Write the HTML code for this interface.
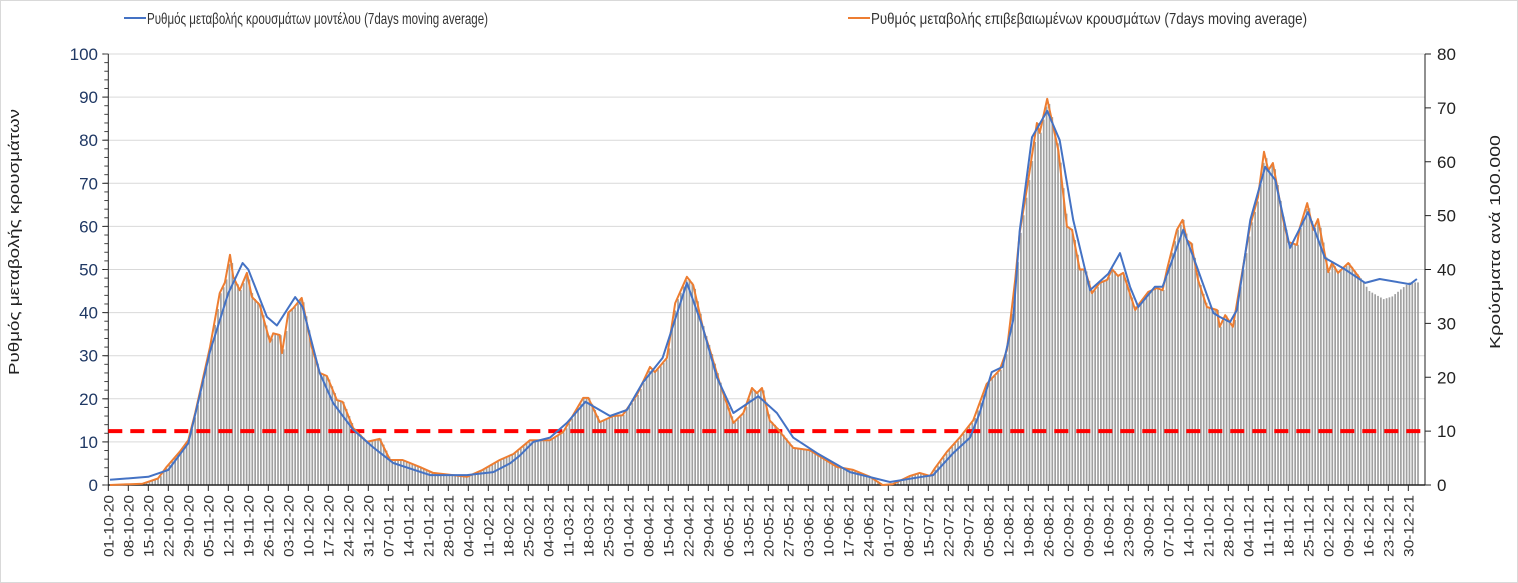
<!DOCTYPE html>
<html><head><meta charset="utf-8"><style>
html,body{margin:0;padding:0;background:#fff;}
svg{display:block;font-family:"Liberation Sans",sans-serif;}
</style></head><body>
<svg id="chart" width="1518" height="583" viewBox="0 0 1518 583" xmlns="http://www.w3.org/2000/svg">
<rect x="0.5" y="0.5" width="1517" height="582" fill="#fff" stroke="#d9d9d9"/>
<g id="grid"></g>
<g id="bars"></g>
<g id="axes"></g>
<g id="lines"></g>
<g>
  <g>
    <line x1="124" y1="18" x2="146" y2="18" stroke="#4472c4" stroke-width="2"/>
    <text x="147" y="24" font-size="16" fill="#333" textLength="341" lengthAdjust="spacingAndGlyphs">Ρυθμός μεταβολής κρουσμάτων μοντέλου (7days moving average)</text>
  </g>
  <g>
    <line x1="848" y1="18" x2="870" y2="18" stroke="#ed7d31" stroke-width="2"/>
    <text x="871" y="24" font-size="16" fill="#333" textLength="436" lengthAdjust="spacingAndGlyphs">Ρυθμός μεταβολής επιβεβαιωμένων κρουσμάτων (7days moving average)</text>
  </g>
</g>
<text transform="translate(19,242) rotate(-90)" text-anchor="middle" font-size="15" fill="#222" textLength="266" lengthAdjust="spacingAndGlyphs">Ρυθμός μεταβολής κρουσμάτων</text>
<text transform="translate(1500,242) rotate(-90)" text-anchor="middle" font-size="15" fill="#222" textLength="214" lengthAdjust="spacingAndGlyphs">Κρούσματα ανά 100.000</text>
</svg>
<script>
// blue: model rate (day offset from 01-10-20, value on left axis)
const blueDays=[0.6,14,21,28,31,35.6,42,47,49,55.5,59,65.4,68,74,78.7,85.7,92.6,99.7,112.6,125.5,134.7,140.6,144,148.8,154.6,160.5,167,175.6,181.5,187,194,202.5,208,213,218.8,227.5,234,239.7,248,259.6,273.6,284,288.7,295.7,301.6,305,309.2,313,316.7,319,323.3,328.6,333,337.7,343.6,350,354.1,357.6,360.5,366.3,369,376.2,381,386.8,389,392.6,395,399.7,404.9,408.4,413.6,419.9,425.8,432.2,439.9,445,455.6,458];
const blueVals=[1.2,1.9,3.5,9.7,18,31,44.5,51.5,50,39,37,43.6,41.3,26,19,12.8,8.8,5.1,2.3,2.3,3,5,6.8,10,11,14.4,19.3,16,17.4,23.7,29.5,46.9,36.7,25,16.7,20.6,16.7,11,7.4,3,0.7,1.8,2.3,7.4,11,16.7,26.2,27.4,38.3,59,80.7,86.8,80,61.5,45.2,49,53.8,46,41.3,46,46,59.2,50.6,39.9,39,37.8,40.6,61.5,73.8,70.8,55,63.3,52.7,50.3,46.9,47.8,46.6,47.8];
// orange: confirmed rate
const orangeDays=[0.6,12,17.4,20.4,25,28,30.4,35.6,39,40.8,42.6,43.7,46,48.5,50.3,53,56.6,57.7,60,60.8,63,64.7,67.7,71.2,74,76.5,80,82,85.7,90.5,95,98.6,103,109,113.7,125.5,131,137,141.8,147.6,154.6,159.2,166.2,168,172,176.7,180,185,189.6,191.3,195.5,198.4,202.5,204.7,208.3,210.6,214,218.8,222.3,225.3,227,228.8,231.5,234,239.7,245.5,255,260.7,266.6,271,274.6,280.6,284,287.6,289.3,293.5,298,302.7,307.4,312,314.5,317.4,319,322,325,326,328.6,332.5,335.5,337.3,340,341.8,344.3,347,349.6,351.3,353.4,355.2,359.4,361,364,367,369,370.5,374,376,377.5,379.1,381.4,384.5,388,389,390.9,393.6,399.6,402.4,404.5,406,407.6,411.2,413,416,417,419.6,421.7,423.4,427,428.3,430.4,434,438];
const orangeVals=[0,0.3,1.5,4.2,7.7,10.4,16.7,32,44.5,47,53.4,48.3,45.2,49.2,43.6,41.8,33.2,35.2,34.8,30.6,40,41,43.4,32,26,25.3,19.7,19.3,13.2,10,10.7,5.8,5.8,4.2,2.8,1.9,3.5,5.8,7.2,10.4,10.4,12.3,20.2,20.2,14.6,16,16.2,20.9,27.4,26.2,29.5,42.2,48.3,46.4,36,31.3,23.7,14.4,16.7,22.5,21.3,22.5,15,13.2,8.6,8.1,4.2,3.5,1.9,0,0.2,2.1,2.8,2.1,3.9,7.7,11,15,23.4,26.7,31.3,47.6,58.5,70.8,84,81.7,89.6,77.7,60,59.2,50,50,44.5,46.9,47.6,50.1,48.5,49.2,40.6,42.2,44.8,45.7,45.2,49.9,59.2,61.5,56.8,56,47.6,41.3,40.6,36.7,39.4,36.7,60,66.8,77.3,73,74.7,61.5,56.4,55.7,59.6,65.4,59.2,61.7,49.4,51.5,49.2,51.5,48];
// bars: daily cases per 100k (right axis), read at these day offsets
const barDays=[0.6,12,17.4,20.4,25,28,30.4,35.6,39,40.8,42.6,43.7,46,48.5,50.3,53,56.6,57.7,60,60.8,63,64.7,67.7,71.2,74,76.5,80,82,85.7,90.5,95,98.6,103,109,113.7,125.5,131,137,141.8,147.6,154.6,159.2,166.2,168,172,176.7,180,185,189.6,191.3,195.5,198.4,202.5,204.7,208.3,210.6,214,218.8,222.3,225.3,227,228.8,231.5,234,239.7,245.5,255,260.7,266.6,271,274.6,280.6,284,287.6,289.3,293.5,298,302.7,307.4,312,314.5,317.4,319,322,325,326,328.6,332.5,335.5,337.3,340,341.8,344.3,347,349.6,351.3,353.4,355.2,359.4,361,364,367,369,370.5,374,376,377.5,379.1,381.4,384.5,388,389,390.9,393.6,399.6,402.4,404.5,406,407.6,411.2,413,416,417,419.6,421.7,423.4,427,428.3,430.4,434,438,441,446,449,455,458];
const barVals=[0,0.24,1.2,3.4,6.2,8.3,13.4,25.6,35.6,37.6,42.7,38.6,36.2,39.4,34.9,33.4,26.6,28.2,27.8,24.5,32,32.8,34.7,25.6,20.8,20.2,15.8,15.4,10.6,8,8.6,4.6,4.6,3.4,2.2,1.5,2.8,4.6,5.8,8.3,8.3,9.8,16.2,16.2,11.7,12.8,13,16.7,21.9,21,23.6,33.8,38.6,37.1,28.8,25,19,11.5,13.4,18,17,18,12,10.6,6.9,6.5,3.4,2.8,1.5,0,0.2,1.7,2.2,1.7,3.1,6.2,8.8,12,18.7,21.4,25,38.1,46.8,56.6,67.2,65.4,71.7,62.2,48,47.4,40,40,35.6,37.5,38.1,40.1,38.8,39.4,32.5,33.8,35.8,36.6,36.2,39.9,47.4,49.2,45.4,44.8,38.1,33,32.5,29.4,31.5,29.4,48,53.4,61.8,58.4,59.8,49.2,45.1,44.6,47.7,52.3,47.4,49.4,39.5,41.2,39.4,41.2,38.4,36,34.5,35,37.6,37.6];
const leftTicks=[0,10,20,30,40,50,60,70,80,90,100];
const rightTicks=[0,10,20,30,40,50,60,70,80];
const threshold=10; // right-axis units

const NS="http://www.w3.org/2000/svg";
const X0=108.3,PX_DAY=20/7,Y0=485,YTOP=54;
const xDay=d=>X0+d*PX_DAY;
const yL=v=>Y0-(Y0-YTOP)*v/100;
const yR=v=>Y0-(Y0-YTOP)*v/80;
function mk(tag,attrs,parent){const e=document.createElementNS(NS,tag);for(const k in attrs)e.setAttribute(k,attrs[k]);parent.appendChild(e);return e;}
const grid=document.getElementById('grid'),bars=document.getElementById('bars'),axes=document.getElementById('axes'),lines=document.getElementById('lines');
const XR=1425;
leftTicks.forEach(t=>{
  if(t>0){const g=mk('line',{x1:X0,x2:XR,y1:yL(t),y2:yL(t),stroke:'#d9d9d9','stroke-width':1},grid);
  
  }
  const tx=mk('text',{x:98,y:yL(t)+6,'text-anchor':'end','font-size':17,fill:'#1f3864'},axes);
  
  
  tx.textContent=t;
  mk('line',{x1:X0-6,x2:X0,y1:yL(t),y2:yL(t),stroke:'#222'},axes);
});
for(let v=0;v<=100;v+=2){mk('line',{x1:X0-4,x2:X0,y1:yL(v),y2:yL(v),stroke:'#444'},axes);}
rightTicks.forEach(t=>{
  const tx=mk('text',{x:1437,y:yR(t)+6,'font-size':17,fill:'#222'},axes);
  
  
  tx.textContent=t;
  mk('line',{x1:XR,x2:XR+6,y1:yR(t),y2:yR(t),stroke:'#222'},axes);
});
// bars (daily), heights read between the sampled values
function barAt(d){
  if(d<=barDays[0])return barVals[0];
  for(let i=1;i<barDays.length;i++){if(d<=barDays[i]){const f=(d-barDays[i-1])/(barDays[i]-barDays[i-1]);return barVals[i-1]+(barVals[i]-barVals[i-1])*f;}}
  return barVals[barVals.length-1];
}
for(let d=0;d<=458;d++){
  const v=barAt(d);
  const r=mk('rect',{x:xDay(d)+0.3,y:yR(v),width:1.7,height:Y0-yR(v),fill:'#a0a0a0'},bars);
  
  
}
mk('line',{x1:X0,x2:X0,y1:YTOP,y2:Y0,stroke:'#222'},axes);
mk('line',{x1:XR,x2:XR,y1:YTOP,y2:Y0,stroke:'#222'},axes);
mk('line',{x1:X0,x2:XR,y1:Y0,y2:Y0,stroke:'#222','stroke-width':1.5},axes);
const start=new Date(Date.UTC(2020,9,1));
for(let k=0;k<=65;k++){
  const x=xDay(7*k);
  mk('line',{x1:x,x2:x,y1:Y0,y2:Y0+6,stroke:'#222'},axes);
  const dt=new Date(start.getTime()+7*k*86400000);
  const lab=String(dt.getUTCDate()).padStart(2,'0')+'-'+String(dt.getUTCMonth()+1).padStart(2,'0')+'-'+String(dt.getUTCFullYear()).slice(2);
  const tx=mk('text',{transform:`translate(${x+5},557) rotate(-90)`,'font-size':14,fill:'#333',textLength:62,lengthAdjust:'spacingAndGlyphs'},axes);
  
  
  tx.textContent=lab;
}
const th=mk('line',{x1:X0,x2:XR,y1:yR(threshold),y2:yR(threshold),stroke:'#ff0000','stroke-width':4,'stroke-dasharray':'14 8'},lines);


function path(days,vals){return days.map((d,i)=>(i?'L':'M')+xDay(d).toFixed(1)+','+yL(vals[i]).toFixed(1)).join(' ');}
const po=mk('path',{d:path(orangeDays,orangeVals),fill:'none',stroke:'#ed7d31','stroke-width':2,'stroke-linejoin':'round'},lines);


const pb=mk('path',{d:path(blueDays,blueVals),fill:'none',stroke:'#4472c4','stroke-width':2,'stroke-linejoin':'round'},lines);


</script>
</body></html>
